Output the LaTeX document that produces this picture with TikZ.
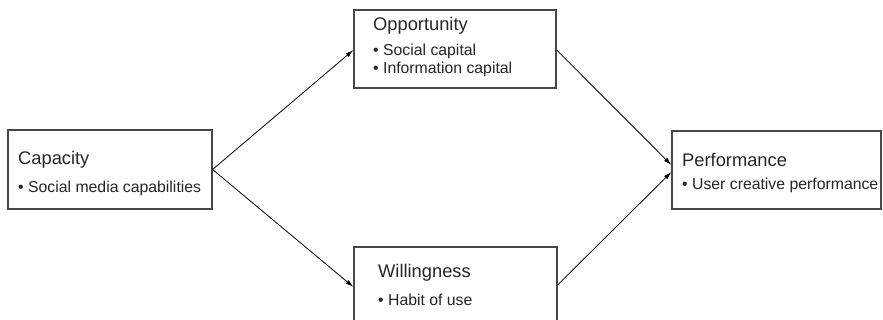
\documentclass[tikz,border=0pt]{standalone}
\usepackage{fontspec}
\setmainfont{Liberation Sans}
\usetikzlibrary{arrows.meta}
\tikzset{
  boxnode/.style={draw=black!72, line width=1.2pt, rectangle, inner sep=0pt, fill=white},
  titletext/.style={anchor=base west, inner sep=0pt, font=\fontsize{18.3}{22}\selectfont, text=black!85},
  itemtext/.style={anchor=base west, inner sep=0pt, font=\fontsize{15.8}{19}\selectfont, text=black!85},
  link/.style={line width=0.8pt, -{Latex[length=8pt,width=4.6pt]}, black}
}
\begin{document}
\begin{tikzpicture}[x=1pt,y=-1pt]
\clip (0,0) rectangle (883,320);
\useasboundingbox (0,0) rectangle (883,320);
% boxes
\node[boxnode, minimum width=204pt, minimum height=79pt] (cap) at (110,169.5) {};
\node[boxnode, minimum width=202pt, minimum height=78pt] (opp) at (455,49) {};
\node[boxnode, minimum width=203pt, minimum height=83pt] (wil) at (455.5,288.5) {};
\node[boxnode, minimum width=209pt, minimum height=78pt] (perf) at (776.5,170) {};
% texts
\node[titletext] (capT) at (18,165) {Capacity};
\node[itemtext] (capI) at (18,192.5) {• Social media capabilities};
\node[titletext] (oppT) at (373,31) {Opportunity};
\node[itemtext] (oppI1) at (373,56) {• Social capital};
\node[itemtext] (oppI2) at (373,74) {• Information capital};
\node[titletext] (wilT) at (378,277) {Willingness};
\node[itemtext] (wilI) at (378,305.5) {• Habit of use};
\node[titletext] (perfT) at (682,166.5) {Performance};
\node[itemtext] (perfI) at (682,190) {• User creative performance};
% connectors
\draw[link] (cap.east) -- ([yshift=-1pt]opp.west);
\draw[link] (cap.east) -- ([yshift=1.5pt]wil.west);
\draw[link] ([yshift=-1pt]opp.east) -- ([yshift=5pt]perf.west);
\draw[link] ([yshift=3.5pt]wil.east) -- ([yshift=-2pt]perf.west);
\end{tikzpicture}
\end{document}
